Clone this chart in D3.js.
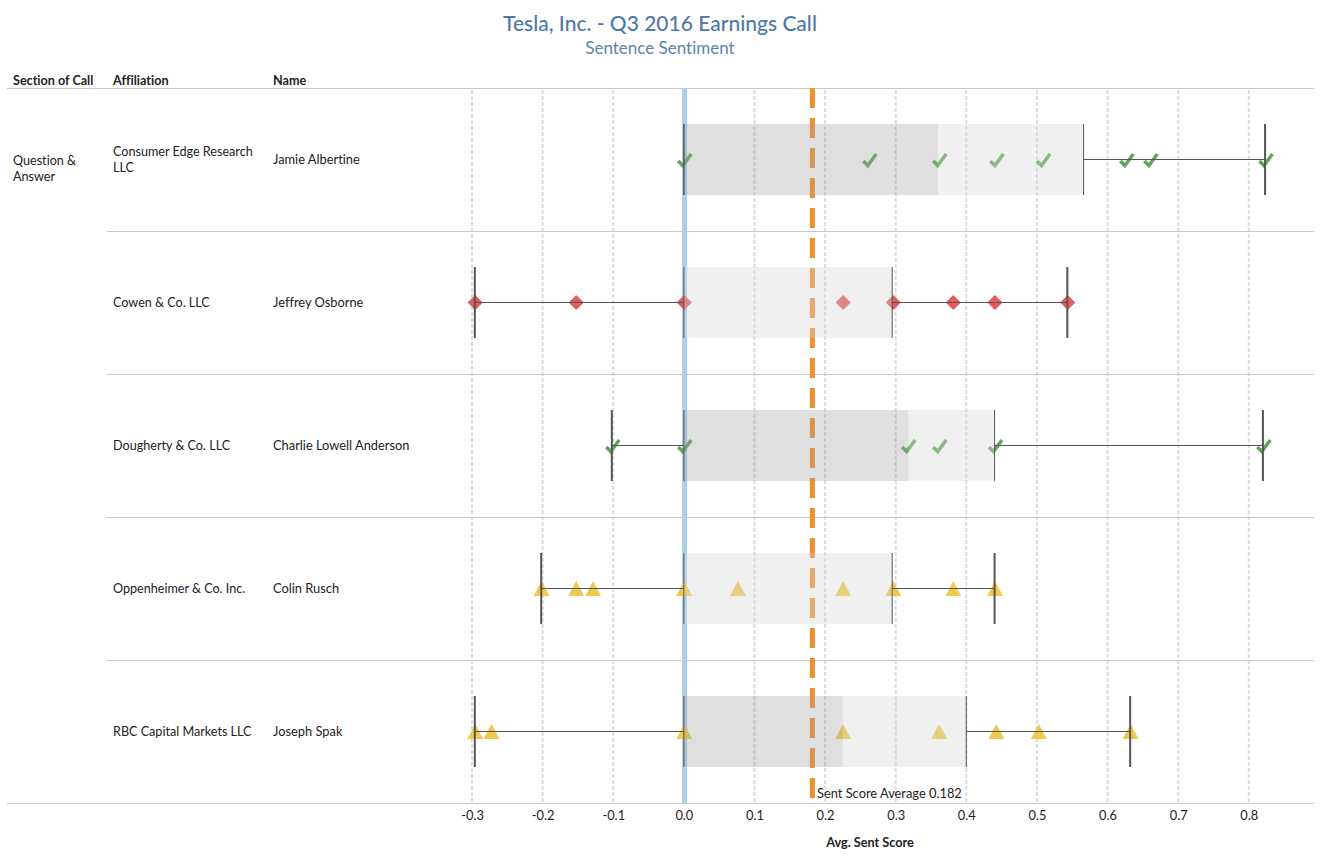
<!DOCTYPE html>
<html lang="en">
<head>
<meta charset="UTF-8">
<title>Tesla Q3 2016 Sentence Sentiment</title>
<script src="https://d3js.org/d3.v7.min.js"></script>
<style>
  html, body { margin: 0; padding: 0; background: #fff; }
  text { font-family: "Lato", "Noto Sans", sans-serif; fill: #222; font-variant-ligatures: none; }
</style>
</head>
<body>
<svg id="canvas" width="1322" height="867"></svg>
<script>
// values
const affiliations = [["Consumer Edge Research", "LLC"], ["Cowen & Co. LLC"], ["Dougherty & Co. LLC"], ["Oppenheimer & Co. Inc."], ["RBC Capital Markets LLC"]];
const names = ["Jamie Albertine", "Jeffrey Osborne", "Charlie Lowell Anderson", "Colin Rusch", "Joseph Spak"];
const shapes = ["check", "diamond", "check", "triangle", "triangle"];
const scores = [
  [0, 0.262, 0.361, 0.442, 0.508, 0.626, 0.66, 0.823],
  [-0.296, -0.153, 0, 0.225, 0.296, 0.381, 0.44, 0.543],
  [-0.102, 0, 0.317, 0.361, 0.44, 0.82],
  [-0.202, -0.153, -0.129, 0, 0.076, 0.225, 0.296, 0.381, 0.44],
  [-0.296, -0.273, 0, 0.225, 0.361, 0.442, 0.502, 0.632]
];
const whiskerLow = [0, -0.296, -0.102, -0.202, -0.296];
const boxLow = [0, 0, 0, 0, 0];
const boxMid = [0.36, 0, 0.318, 0, 0.225];
const boxHigh = [0.566, 0.295, 0.44, 0.295, 0.4];
const whiskerHigh = [0.823, 0.543, 0.82, 0.44, 0.632];
const xTicks = [-0.3, -0.2, -0.1, 0, 0.1, 0.2, 0.3, 0.4, 0.5, 0.6, 0.7, 0.8];
const average = 0.182;

const svg = d3.select("#canvas");
const x = d3.scaleLinear().domain([-0.3, 0.8]).range([472, 1248.8]);
const y = d3.scaleBand().domain(d3.range(5)).range([88, 803]);
const colors = { check: "#59a14f", diamond: "#e15759", triangle: "#edc948" };
const bodySize = 12.6;

// title
svg.append("text").attr("x", 660).attr("y", 31).attr("text-anchor", "middle")
  .attr("font-size", 21).attr("font-weight", 500).style("fill", "#4e79a7").text("Tesla, Inc. - Q3 2016 Earnings Call");
svg.append("text").attr("x", 660).attr("y", 54).attr("text-anchor", "middle")
  .attr("font-size", 17).style("fill", "#5b84b1").text("Sentence Sentiment");

// headers
[["Section of Call", 13], ["Affiliation", 113], ["Name", 273]].forEach(h => {
  svg.append("text").attr("x", h[1]).attr("y", 84.5).attr("font-size", 12.6).attr("font-weight", 700).text(h[0]);
});

// grid
svg.append("g").selectAll("line").data(xTicks.filter(d => d !== 0)).enter().append("line")
  .attr("x1", d => x(d)).attr("x2", d => x(d)).attr("y1", 90).attr("y2", 803)
  .attr("stroke", "#dcdcdc").attr("stroke-width", 2).attr("stroke-dasharray", "4 2");

// row dividers
svg.append("g").selectAll("line").data(d3.range(6)).enter().append("line")
  .attr("x1", d => (d === 0 || d === 5) ? 7 : 107).attr("x2", 1314)
  .attr("y1", d => 88.5 + d * 143).attr("y2", d => 88.5 + d * 143)
  .attr("stroke", "#c8c8c8").attr("stroke-width", 1);

// reference lines
svg.append("line").attr("x1", x(0) + 0.7).attr("x2", x(0) + 0.7).attr("y1", 88).attr("y2", 803)
  .attr("stroke", "#abd0ec").attr("stroke-width", 5);
svg.append("line").attr("x1", x(average)).attr("x2", x(average)).attr("y1", 88).attr("y2", 798)
  .attr("stroke", "#f28e2b").attr("stroke-width", 5).attr("stroke-dasharray", "20 10");

// rows
const rows = svg.append("g").selectAll("g").data(d3.range(5)).enter().append("g")
  .attr("transform", d => `translate(0,${y(d) + y.bandwidth() / 2})`);

// marks sit under the boxes, so the boxes wash them out
const diamondPath = "M0,-7.6L7.6,0L0,7.6L-7.6,0Z";
const trianglePath = "M0,-7.5L8,7.5L-8,7.5Z";
const checkPath = "M-6,1.5L-1.5,6L7,-5.5";
rows.each(function(r) {
  const shape = shapes[r];
  const marks = d3.select(this).selectAll(".mark").data(scores[r]).enter().append("path")
    .attr("class", "mark").attr("transform", d => `translate(${x(d) + 0.4},0)`);
  if (shape === "check") {
    marks.attr("d", checkPath).attr("fill", "none").attr("stroke", colors.check)
      .attr("stroke-width", 3.5).attr("stroke-opacity", 0.95);
  } else {
    marks.attr("d", shape === "diamond" ? diamondPath : trianglePath)
      .attr("fill", colors[shape]).attr("fill-opacity", 0.97);
  }
});

rows.append("rect").attr("x", d => x(boxLow[d])).attr("width", d => x(boxMid[d]) - x(boxLow[d]))
  .attr("y", -35.5).attr("height", 71).attr("fill", "#9e9e9e").attr("fill-opacity", 0.33);
rows.append("rect").attr("x", d => x(boxMid[d])).attr("width", d => x(boxHigh[d]) - x(boxMid[d]))
  .attr("y", -35.5).attr("height", 71).attr("fill", "#d6d6d6").attr("fill-opacity", 0.36);

// whisker stems
rows.append("line").attr("x1", d => x(whiskerLow[d])).attr("x2", d => x(boxLow[d]))
  .attr("stroke", "#555").attr("stroke-width", 1);
rows.append("line").attr("x1", d => x(boxHigh[d])).attr("x2", d => x(whiskerHigh[d]))
  .attr("stroke", "#555").attr("stroke-width", 1);

// whisker caps and box edges
[[whiskerLow, 2], [whiskerHigh, 2], [boxLow, 1], [boxHigh, 1]].forEach(c => {
  rows.append("line").attr("x1", d => x(c[0][d])).attr("x2", d => x(c[0][d]))
    .attr("y1", -35.5).attr("y2", 35.5).attr("stroke", "#555")
    .attr("stroke-width", d => (c[1] === 2 && c[0][d] === boxLow[d]) ? 1 : c[1]);
});

// row labels
rows.append("text").attr("x", 273).attr("y", 4.7).attr("font-size", 12.85).text(d => names[d]);
rows.each(function(r) {
  const lines = affiliations[r];
  d3.select(this).selectAll(".aff").data(lines).enter().append("text").attr("class", "aff")
    .attr("x", 113).attr("font-size", bodySize)
    .attr("y", (d, i) => 4.7 + (i - (lines.length - 1) / 2) * 16).text(d => d);
});
svg.append("text").attr("x", 13).attr("y", 164.7).attr("font-size", bodySize).text("Question &");
svg.append("text").attr("x", 13).attr("y", 180.7).attr("font-size", bodySize).text("Answer");

// average label
svg.append("text").attr("x", 817).attr("y", 798).attr("font-size", 12.85).text("Sent Score Average 0.182");

// axis
const axis = svg.append("g").attr("transform", "translate(0,803)")
  .call(d3.axisBottom(x).tickValues(xTicks).tickFormat(d => d.toFixed(1)).tickSize(0).tickPadding(8));
axis.select(".domain").remove();
axis.selectAll("text").attr("font-size", 12.85).style("font-family", '"Lato", sans-serif');
svg.append("text").attr("x", 870).attr("y", 847).attr("text-anchor", "middle")
  .attr("font-size", 12.7).attr("font-weight", 700).text("Avg. Sent Score");
</script>
</body>
</html>
